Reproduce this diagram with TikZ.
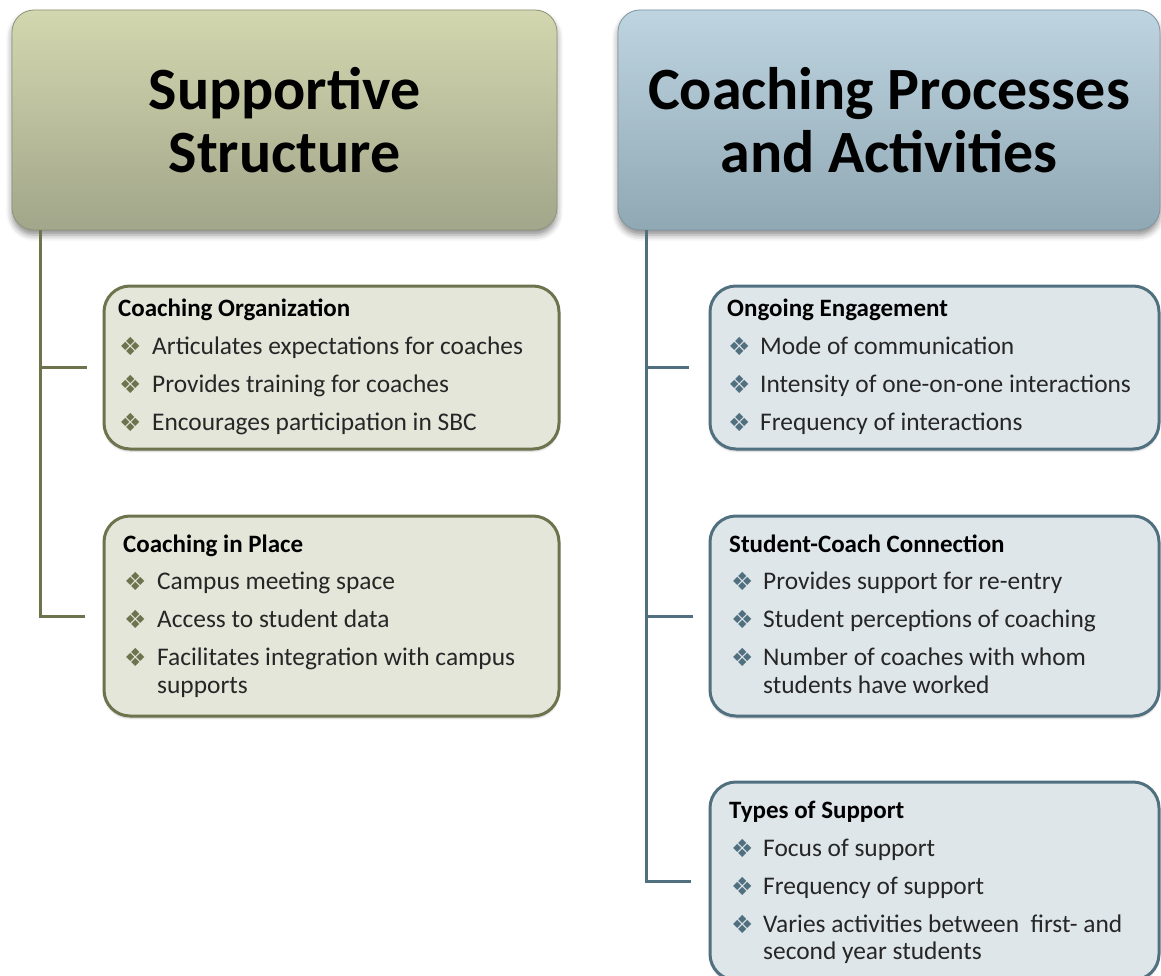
\documentclass[tikz,border=0pt]{standalone}
\usepackage{fontspec}
\setmainfont{Carlito}
\newfontfamily\symfont{DejaVu Sans}
\usetikzlibrary{calc,shadows.blur}

\definecolor{oliveTop}{HTML}{D3D7AF}
\definecolor{oliveBot}{HTML}{A2A68A}
\definecolor{oliveEdge}{HTML}{8E9277}
\definecolor{oliveLine}{HTML}{6D744D}
\definecolor{oliveFill}{HTML}{E4E6DA}
\definecolor{slateTop}{HTML}{BED5E1}
\definecolor{slateBot}{HTML}{90A7B4}
\definecolor{slateEdge}{HTML}{7E95A2}
\definecolor{slateLine}{HTML}{51707F}
\definecolor{slateFill}{HTML}{DFE6EA}
\definecolor{bodyText}{HTML}{262626}

\tikzset{
  header/.style={rounded corners=22pt, line width=0.8pt, align=center,
    font=\fontsize{60}{63}\selectfont\bfseries, text=black,
    blur shadow={shadow xshift=0pt, shadow yshift=-5pt, shadow blur radius=6pt, shadow opacity=45}},
  hdrL/.style={header, draw=oliveEdge, top color=oliveTop, bottom color=oliveBot},
  hdrR/.style={header, draw=slateEdge, top color=slateTop, bottom color=slateBot},
  panel/.style={rounded corners=26pt, line width=3pt,
    blur shadow={shadow xshift=0pt, shadow yshift=-2pt, shadow blur radius=2pt, shadow opacity=25}},
  panelL/.style={panel, draw=oliveLine, fill=oliveFill},
  panelR/.style={panel, draw=slateLine, fill=slateFill},
  trunkL/.style={draw=oliveLine, line width=3pt},
  trunkR/.style={draw=slateLine, line width=3pt},
  ttl/.style={anchor=base west, inner sep=0pt, font=\fontsize{25}{28}\selectfont\bfseries, text=black},
  itm/.style={anchor=base west, inner sep=0pt, font=\fontsize{25.4}{28}\selectfont, text=bodyText},
  dotL/.style={anchor=base west, inner sep=0pt, font=\symfont\fontsize{25}{28}\selectfont, text=oliveLine},
  dotR/.style={anchor=base west, inner sep=0pt, font=\symfont\fontsize{25}{28}\selectfont, text=slateLine},
}

\begin{document}
\begin{tikzpicture}[x=1pt,y=-1pt]
\useasboundingbox (0,0) rectangle (1161,976);
\clip (0,0) rectangle (1161,976);

% header boxes
\node[hdrL, minimum width=545pt, minimum height=220pt] (hl) at (284.5,120) {Supportive\\Structure};
\node[hdrR, minimum width=542pt, minimum height=220pt] (hr) at (889,120) {Coaching Processes\\and Activities};

% panels, left column
\node[panelL, minimum width=455pt, minimum height=163pt] (co) at (331.5,367.5) {};
\node[panelL, minimum width=455pt, minimum height=200pt] (ci) at (331.5,616) {};
% panels, right column
\node[panelR, minimum width=449pt, minimum height=163pt] (oe) at (934.5,367.5) {};
\node[panelR, minimum width=449pt, minimum height=200pt] (sc) at (934.5,616) {};
\node[panelR, minimum width=449pt, minimum height=198pt] (ts) at (934.5,881) {};

% tree connectors
\coordinate (lx) at (40,0);
\coordinate (rx) at (646,0);
\draw[trunkL] (lx |- hl.south) |- ($(ci.west)+(-18,0)$);
\draw[trunkL] (lx |- co.west) -- ($(co.west)+(-16,0)$);
\draw[trunkR] (rx |- hr.south) |- ($(ts.west)+(-18,0)$);
\draw[trunkR] (rx |- oe.west) -- ($(oe.west)+(-20,0)$);
\draw[trunkR] (rx |- sc.west) -- ($(sc.west)+(-16,0)$);

% Coaching Organization
\node[ttl] (coT) at (118,316) {Coaching Organization};
\node[dotL] (coB1) at (119,355.5) {❖};
\node[itm]  (coI1) at (152,354) {Articulates expectations for coaches};
\node[dotL] (coB2) at (119,393.5) {❖};
\node[itm]  (coI2) at (152,392) {Provides training for coaches};
\node[dotL] (coB3) at (119,431.5) {❖};
\node[itm]  (coI3) at (152,430) {Encourages participation in SBC};

% Coaching in Place
\node[ttl] (ciT) at (123,552) {Coaching in Place};
\node[dotL] (ciB1) at (124,590.5) {❖};
\node[itm]  (ciI1) at (157,589) {Campus meeting space};
\node[dotL] (ciB2) at (124,628.5) {❖};
\node[itm]  (ciI2) at (157,627) {Access to student data};
\node[dotL] (ciB3) at (124,666.5) {❖};
\node[itm]  (ciI3) at (157,665) {Facilitates integration with campus};
\node[itm]  (ciI3b) at (157,693) {supports};

% Ongoing Engagement
\node[ttl] (oeT) at (727,316) {Ongoing Engagement};
\node[dotR] (oeB1) at (728,355.5) {❖};
\node[itm]  (oeI1) at (760,354) {Mode of communication};
\node[dotR] (oeB2) at (728,393.5) {❖};
\node[itm]  (oeI2) at (760,392) {Intensity of one-on-one interactions};
\node[dotR] (oeB3) at (728,431.5) {❖};
\node[itm]  (oeI3) at (760,430) {Frequency of interactions};

% Student-Coach Connection
\node[ttl] (scT) at (729,552) {Student-Coach Connection};
\node[dotR] (scB1) at (731,590.5) {❖};
\node[itm]  (scI1) at (763,589) {Provides support for re-entry};
\node[dotR] (scB2) at (731,628.5) {❖};
\node[itm]  (scI2) at (763,627) {Student perceptions of coaching};
\node[dotR] (scB3) at (731,666.5) {❖};
\node[itm]  (scI3) at (763,665) {Number of coaches with whom};
\node[itm]  (scI3b) at (763,693) {students have worked};

% Types of Support
\node[ttl] (tsT) at (729,818) {Types of Support};
\node[dotR] (tsB1) at (731,857.5) {❖};
\node[itm]  (tsI1) at (763,856) {Focus of support};
\node[dotR] (tsB2) at (731,895.5) {❖};
\node[itm]  (tsI2) at (763,894) {Frequency of support};
\node[dotR] (tsB3) at (731,933.5) {❖};
\node[itm]  (tsI3) at (763,932) {Varies activities between\ \ first- and};
\node[itm]  (tsI3b) at (763,959) {second year students};
\end{tikzpicture}
\end{document}
